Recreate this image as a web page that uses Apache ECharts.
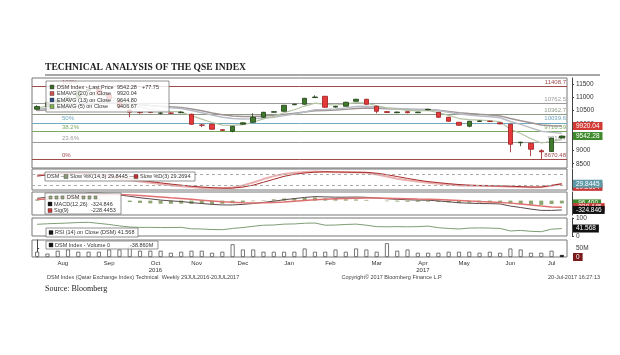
<!DOCTYPE html>
<html><head><meta charset="utf-8">
<script src="https://cdn.jsdelivr.net/npm/echarts@6.0.0/dist/echarts.min.js"></script>
<style>html,body{margin:0;padding:0;background:#fff}#c{width:620px;height:355px}</style>
</head><body><div id="c"></div>
<script>
// ---------------- data ----------------
const weeks = ['2016-07-29','2016-08-05','2016-08-12','2016-08-19','2016-08-26','2016-09-02','2016-09-09','2016-09-16','2016-09-23','2016-09-30',
'2016-10-07','2016-10-14','2016-10-21','2016-10-28','2016-11-04','2016-11-11','2016-11-18','2016-11-25','2016-12-02','2016-12-09',
'2016-12-16','2016-12-23','2016-12-30','2017-01-06','2017-01-13','2017-01-20','2017-01-27','2017-02-03','2017-02-10','2017-02-17',
'2017-02-24','2017-03-03','2017-03-10','2017-03-17','2017-03-24','2017-03-31','2017-04-07','2017-04-14','2017-04-21','2017-04-28',
'2017-05-05','2017-05-12','2017-05-19','2017-05-26','2017-06-02','2017-06-09','2017-06-16','2017-06-23','2017-06-30','2017-07-07',
'2017-07-14','2017-07-20'];
const opens  = [10550,10650,10800,10900,11000,11250,11300,11110,10850,10520,10440,10460,10400,10410,10420,10361,9960,9985,9780,9722,
9990,10060,10248,10436,10474,10720,10737,10990,11038,10630,10662,10850,10925,10662,10460,10420,10460,10420,10530,10436,
10248,10060,9910,10090,10100,10040,9985,9290,9270,8990,8960,9470];
const closes = [10650,10800,10900,11000,11250,11300,11110,10950,10620,10440,10420,10430,10410,10400,10440,9985,9947,9797,9755,9910,
10040,10248,10436,10460,10699,10740,10962,11010,10624,10660,10812,10925,10737,10474,10430,10445,10420,10440,10545,10248,
10098,9947,10098,10110,10090,10000,9233,9310,9045,8950,9464.53,9542.28];
const lows   = [10500,10620,10760,10870,10980,11200,11080,10900,10580,10250,10380,10400,10360,10370,10400,9960,9880,9780,9740,9684,
9970,10040,10230,10420,10460,10700,10720,10970,10600,10610,10650,10840,10720,10398,10410,10400,10400,10405,10515,10230,
10080,9930,9872,10075,10070,9985,8932,9160,8782,8670.48,8950,9450];
const highs  = [10700,10850,10950,11060,11300,11408.7,11340,11150,10880,10560,10480,10490,10440,10430,10470,10380,10000,10000,9790,9920,
10060,10398,10450,10480,10710,10760,10975,11075,11050,10680,10830,10940,10940,10680,10480,10460,10470,10455,10565,10450,
10260,10070,10110,10125,10115,10055,10000,9325,9285,9045,9475,9560];
const ema20 = [10500,10530,10570,10610,10670,10730,10770,10790,10780,10750,10720,10690,10665,10640,10620,10560,10490,10410,10340,10300,
10280,10280,10300,10320,10355,10395,10445,10495,10505,10520,10545,10580,10595,10585,10570,10560,10548,10538,10538,10508,
10468,10420,10388,10358,10330,10300,10200,10120,10040,9960,9930,9920.04];
const ema13 = [10550,10590,10640,10690,10770,10850,10890,10900,10860,10800,10740,10690,10650,10610,10580,10500,10420,10330,10250,10200,
10180,10190,10220,10250,10310,10370,10450,10530,10540,10560,10600,10650,10660,10630,10600,10580,10560,10540,10540,10500,
10440,10370,10330,10300,10270,10230,10090,9980,9850,9720,9680,9644.80];
const ema5  = [10600,10670,10750,10830,10970,11080,11090,11040,10900,10750,10630,10550,10500,10470,10450,10300,10180,10050,9950,9940,
9970,10060,10190,10280,10420,10530,10670,10780,10730,10710,10740,10800,10780,10680,10600,10550,10510,10490,10510,10420,
10320,10200,10160,10140,10120,10080,9800,9640,9440,9280,9340,9406.67];
const fibLevels = [11408.7,10762.5,10362.7,10039.6,9716.59,9316.7,8670.48];
const fibPct    = ['100%','76.4%','61.8%','50%','38.2%','23.6%','0%'];
const slowK = [70,75,78,80,80,76,70,62,54,46,40,34,28,22,18,14,10,8,8,12,22,36,52,66,76,82,86,88,86,84,
84,85,82,74,64,54,46,40,34,30,26,22,20,20,19,18,16,14,13,14,20,29.8445];
const slowD = [66,72,76,79,80,79,75,69,62,54,47,40,34,28,23,18,14,11,9,9,14,23,37,51,65,75,81,85,87,86,
85,84,84,80,73,64,55,47,40,35,30,26,23,21,20,19,18,16,14,14,22,29.2694];
const macd = [80,120,160,190,230,260,260,240,200,150,100,60,20,-10,-30,-70,-100,-130,-150,-150,-130,-100,-60,-20,30,70,110,140,130,120,
120,125,115,90,65,45,30,18,15,-10,-40,-75,-90,-100,-105,-115,-190,-240,-295,-340,-340,-324.846];
const signal = [40,60,85,110,140,170,195,210,210,200,180,155,130,100,75,45,15,-15,-40,-60,-75,-80,-75,-65,-45,-20,5,30,50,65,
75,85,90,90,85,77,68,58,50,38,22,3,-16,-33,-47,-61,-87,-118,-153,-190,-220,-228.4453];
const macdHist = [40,60,75,80,90,90,65,30,-10,-50,-80,-95,-110,-110,-105,-115,-115,-115,-110,-90,-55,-20,15,45,75,90,105,110,80,55,
45,40,25,0,-20,-32,-38,-40,-35,-48,-62,-78,-74,-67,-58,-54,-103,-122,-142,-150,-120,-96.4];
const rsi = [65,68,70,72,75,76,70,64,56,50,48,48,47,47,48,40,39,36,35,42,47,54,60,61,66,67,71,72,60,61,
64,66,60,52,51,52,51,52,55,46,42,39,44,45,44,42,28,31,26,24,38,41.568];
const volumeM = [31,20,37,44,31,31,31,44,44,62,37,37,37,25,31,37,37,25,31,75,44,44,31,31,31,31,50,31,31,44,
31,50,44,31,81,37,44,25,25,25,31,31,31,25,31,25,50,44,25,25,37,12];
const priceTicks = [8500,9000,9500,10000,10500,11000,11500];
const monthPos = [2.5,7,11.5,15.5,20,24.5,28.5,33,37.5,41.5,46,50];
const monthLabels = ['Aug','Sep','Oct\n2016','Nov','Dec','Jan','Feb','Mar','Apr\n2017','May','Jun','Jul'];

// ---------------- styles ----------------
const SANS = '"Liberation Sans", Arial, sans-serif';
const NONE = 'rgba(0,0,0,0)';
const fibColors = ['#a04a4a','#9a9a9a','#8f9a86','#6fa8bf','#7aa85e','#9a9a9a','#a04a4a'];
const L = 32, W = 535;
const chart = echarts.init(document.getElementById('c'), null, {renderer:'canvas'});

function hiddenCat(g){ return {type:'category', gridIndex:g, data:weeks, boundaryGap:true,
  axisLabel:{show:false}, axisTick:{show:false}, axisLine:{show:false}, splitLine:{show:false}}; }
function rightAxis(g, min, max, extra){ return Object.assign({type:'value', gridIndex:g, position:'right', offset:5, min, max, scale:false,
  axisLine:{show:true, lineStyle:{color:'#444', width:1}}, splitLine:{show:false},
  axisTick:{show:false}, axisLabel:{show:false}}, extra||{}); }
function helper(xi, name, src, ml){ return {type:'line', name, xAxisIndex:xi, yAxisIndex:xi, data:src, silent:true, z:20,
  showSymbol:false, symbol:'none', color:NONE, lineStyle:{color:NONE, width:0}, itemStyle:{color:NONE},
  markLine:Object.assign({symbol:'none', silent:true, animation:false, z:20, lineStyle:{color:NONE, width:0}}, ml)}; }
function valBox(v, text, bg, off){ return {yAxis:v,
  label:{show:true, position:'end', formatter:text, backgroundColor:bg, color:'#fff', fontSize:6.5, fontFamily:SANS,
  padding:[1,3,0,3], distance:6, offset:off||[0,0]}}; }
const plainLabel = (v)=>String(v);

const option = {
  animation:false,
  backgroundColor:'#fff',
  textStyle:{fontFamily:SANS},
  grid:[
    {left:L, top:78, width:W, height:90, show:true, borderColor:'#777', borderWidth:1},
    {left:L, top:169, width:W, height:21, show:true, borderColor:'#777', borderWidth:1},
    {left:L, top:192, width:W, height:23, show:true, borderColor:'#777', borderWidth:1},
    {left:L, top:218, width:W, height:18, show:true, borderColor:'#777', borderWidth:1},
    {left:L, top:240, width:W, height:17, show:true, borderColor:'#777', borderWidth:1}
  ],
  xAxis:[hiddenCat(0),hiddenCat(1),hiddenCat(2),hiddenCat(3),hiddenCat(4),
    {type:'value', gridIndex:4, min:-0.5, max:51.5, position:'bottom',
     axisLine:{show:false}, splitLine:{show:false},
     axisTick:{show:false},
     axisLabel:{customValues:monthPos, formatter:(v)=>monthLabels[monthPos.indexOf(v)], fontSize:6, color:'#333', margin:3, lineHeight:7}}
  ],
  yAxis:[
    rightAxis(0, 8340, 11725, {axisLabel:{show:true, customValues:priceTicks, formatter:plainLabel, fontSize:6.5, color:'#333', margin:4},
      axisTick:{show:true, customValues:priceTicks, length:2, lineStyle:{color:'#444'}}}),
    rightAxis(1, 0, 100),
    rightAxis(2, -500, 300),
    rightAxis(3, 0, 100, {axisLabel:{show:true, customValues:[0,100], formatter:plainLabel, fontSize:6.5, color:'#333', margin:4},
      axisTick:{show:true, customValues:[0,100], length:2}}),
    rightAxis(4, 0, 100, {axisLabel:{show:true, customValues:[50], formatter:(v)=>v+'M', fontSize:6.5, color:'#333', margin:4},
      axisTick:{show:true, customValues:[50], length:2}})
  ],
  series:[
    {type:'candlestick', name:'DSM', xAxisIndex:0, yAxisIndex:0, barWidth:5, z:5,
     data:weeks.map((w,i)=>[opens[i],closes[i],lows[i],highs[i]]),
     itemStyle:{color:'#3d7a2a', color0:'#e4393b', borderColor:'#1f3d16', borderColor0:'#9e1c1c', borderWidth:0.8},
     markLine:{symbol:'none', silent:true, animation:false, z:2,
       data:fibLevels.map((v,i)=>({yAxis:v, lineStyle:{color:fibColors[i], width:1, type:'solid'},
         label:{show:true, position:'insideEndTop', formatter:String(v), color:fibColors[i], fontSize:6, fontFamily:SANS, distance:1}}))}},
    {type:'line', name:'EMAVG (20)', xAxisIndex:0, yAxisIndex:0, data:ema20, showSymbol:false, z:3,
     lineStyle:{color:'#a09494', width:1.5}},
    {type:'line', name:'EMAVG (13)', xAxisIndex:0, yAxisIndex:0, data:ema13, showSymbol:false, z:3,
     lineStyle:{color:'#b8bcc4', width:1.5}},
    {type:'line', name:'EMAVG (5)', xAxisIndex:0, yAxisIndex:0, data:ema5, showSymbol:false, z:3,
     lineStyle:{color:'#b4c4a4', width:1.2}},
    helper(0,'fibLeft',closes,{data:fibLevels.map((v,i)=>({yAxis:v,
      label:{show:true, position:'insideStartTop', formatter:fibPct[i], color:fibColors[i], fontSize:6, fontFamily:SANS, distance:[30,1]}}))}),
    helper(0,'mainBoxes',closes,{data:[valBox(9920.04,'9920.04','#d23a36'), valBox(9542.28,'9542.28','#3f8a2c')]}),
    // stochastic
    {type:'line', name:'Slow %K', xAxisIndex:1, yAxisIndex:1, data:slowK, showSymbol:false, lineStyle:{color:'#eab0b0', width:2},
     markLine:{symbol:'none', silent:true, animation:false, label:{show:false},
       data:[{yAxis:75},{yAxis:25}], lineStyle:{color:'#aaa', type:[3,3], width:1}}},
    {type:'line', name:'Slow %D', xAxisIndex:1, yAxisIndex:1, data:slowD, showSymbol:false, lineStyle:{color:'#a82a2a', width:1}},
    helper(1,'stochBoxD',slowD,{data:[valBox(29.2694,'29.2694','#c83a3a',[0,3])]}),
    helper(1,'stochBoxK',slowK,{data:[valBox(29.8445,'29.8445','#5e9aa6')]}),
    // MACD
    {type:'bar', name:'hist', xAxisIndex:2, yAxisIndex:2, data:macdHist, barWidth:4, itemStyle:{color:'#8ea672'}},
    {type:'line', name:'MACD', xAxisIndex:2, yAxisIndex:2, data:macd, showSymbol:false, lineStyle:{color:'#5a4a4a', width:1}},
    {type:'line', name:'Sig', xAxisIndex:2, yAxisIndex:2, data:signal, showSymbol:false, lineStyle:{color:'#e07070', width:1.5}},
    helper(2,'macdBoxes',macd,{data:[valBox(-96.4,'-96.400','#3f8a2c'), valBox(-228.4453,'-228.445','#c83a3a'), valBox(-324.846,'-324.846','#111')]}),
    // RSI
    {type:'line', name:'RSI', xAxisIndex:3, yAxisIndex:3, data:rsi, showSymbol:false, lineStyle:{color:'#7e9e74', width:1}},
    helper(3,'rsiBox',rsi,{data:[valBox(41.568,'41.568','#111')]}),
    // Volume
    {type:'bar', name:'Volume', xAxisIndex:4, yAxisIndex:4, barWidth:4,
     data:volumeM.map((v,i)=> i===volumeM.length-1 ? {value:v, itemStyle:{color:'#111', borderColor:'#111'}} : v),
     itemStyle:{color:'#fff', borderColor:'#555', borderWidth:0.8}},
    helper(4,'volBox',volumeM,{data:[valBox(0,'0','#7a1a1a')]})
  ],
  graphic:[]
};

// ---------------- text / legends ----------------
const G = [];
function txt(t,x,y,o,extra){ G.push(Object.assign({type:'text', silent:true, z:100, style:Object.assign({text:t, x, y, font:'5.5px '+SANS, fill:'#333', textVerticalAlign:'middle'}, o||{})}, extra||{})); }
function rect(x,y,w,h,fill,stroke,lw){ G.push({type:'rect', silent:true, z:99, shape:{x,y,width:w,height:h}, style:{fill, stroke:stroke||null, lineWidth:lw||0.8}}); }
function sq(x,y,fill,s){ s=s||4; G.push({type:'rect', silent:true, z:100, shape:{x, y:y-s/2, width:s, height:s}, style:{fill, stroke:'#333', lineWidth:0.4}}); }

// title
txt('TECHNICAL ANALYSIS OF THE QSE INDEX', 0, 0, {font:'bold 11px "Liberation Serif", serif', fill:'#222'}, {x:45, y:67, scaleX:0.87});
G.push({type:'line', silent:true, z:100, shape:{x1:45,y1:75,x2:600,y2:75}, style:{stroke:'#8a8a8a', lineWidth:1.5}});

// main legend
rect(46,81,123,31,'rgba(255,255,255,0.82)','#777');
const rowsY=[87,93.5,100,106.5];
sq(50,rowsY[0],'#3a6a2a'); txt('DSM Index - Last Price',57,rowsY[0]); txt('9542.28',117,rowsY[0]); txt('+77.75',142,rowsY[0]);
sq(50,rowsY[1],'#d05050'); txt('EMAVG (20) on Close',57,rowsY[1]); txt('9920.04',117,rowsY[1]);
sq(50,rowsY[2],'#2f4a80'); txt('EMAVG (13) on Close',57,rowsY[2]); txt('9644.80',117,rowsY[2]);
sq(50,rowsY[3],'#7fb050'); txt('EMAVG (5) on Close',57,rowsY[3]); txt('9406.67',117,rowsY[3]);

// stochastic legend
rect(45,172,150,9,'rgba(255,255,255,0.85)','#777');
txt('DSM —',47,176.5); sq(64,176.5,'#8a9a7a'); txt('Slow %K(14,3) 29.8445 —',70,176.5);
sq(134,176.5,'#c03030'); txt('Slow %D(3) 29.2694',140,176.5);

// MACD legend
rect(45,193,76,21,'rgba(255,255,255,0.85)','#777');
sq(49,197.5,'#9aae80',3); sq(55,197.5,'#9aae80',3); sq(61,197.5,'#9aae80',3); txt('DSM',67,197.5); sq(82,197.5,'#9aae80',3); sq(88,197.5,'#9aae80',3); sq(94,197.5,'#9aae80',3);
sq(48,204,'#111'); txt('MACD(12,26)',54,204); txt('-324.846',91,204);
sq(48,210.5,'#c83a3a'); txt('Sig(9)',54,210.5); txt('-228.4453',91,210.5);

// RSI legend
rect(46,228,92,9,'rgba(255,255,255,0.85)','#777');
sq(49,232.5,'#111'); txt('RSI (14) on Close (DSM) 41.568',55,232.5);

// Volume legend
rect(46,241,112,8,'rgba(255,255,255,0.85)','#777');
sq(49,245,'#111'); txt('DSM Index - Volume 0',55,245); txt('-38.860M',130,245);

// footer
txt('DSM Index (Qatar Exchange Index) Technical  Weekly 29JUL2016-20JUL2017',47,277,{font:'5.5px '+SANS, fill:'#444'});
txt('Copyright© 2017 Bloomberg Finance L.P.',392,277,{font:'5.5px '+SANS, fill:'#444', textAlign:'center'});
txt('20-Jul-2017 16:27:13',600,277,{font:'5.5px '+SANS, fill:'#444', textAlign:'right'});
txt('Source: Bloomberg',45,289,{font:'8px "Liberation Serif", serif', fill:'#222'});

option.graphic = G;
chart.setOption(option);
</script></body></html>
